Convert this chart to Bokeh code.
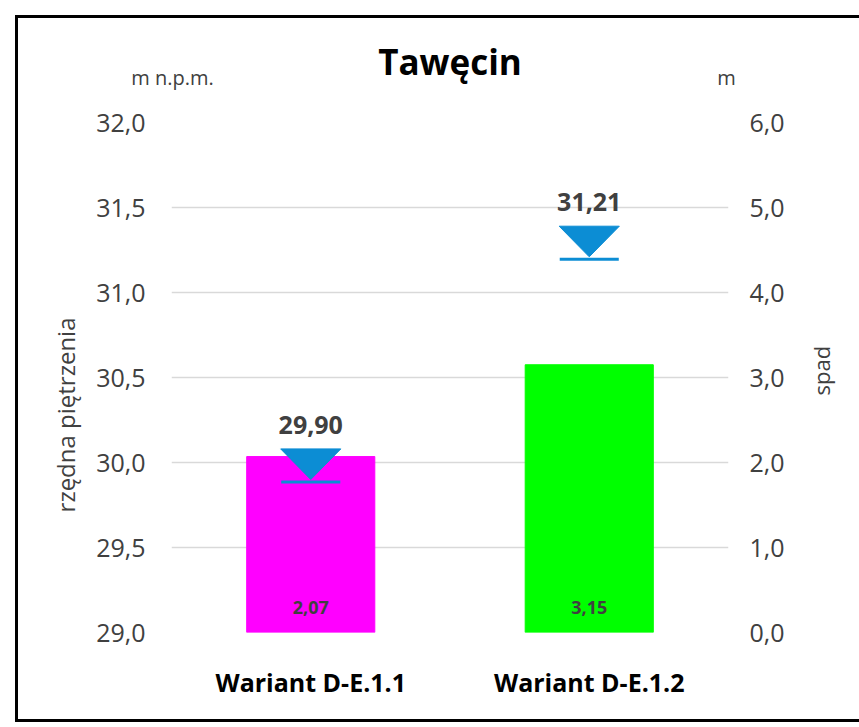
import math, json
from bokeh.plotting import figure
from bokeh.models import (Range1d, LinearAxis, FixedTicker, CustomJSTickFormatter,
                          ColumnDataSource, FactorRange)
from bokeh.embed import file_html
from bokeh.resources import INLINE
from bokeh.core.properties import value

# ---- data ----
categories = ["Wariant D-E.1.1", "Wariant D-E.1.2"]
spad = [2.07, 3.15]
spad_labels = ["2,07", "3,15"]
rzedna = [29.90, 31.21]
rzedna_labels = ["29,90", "31,21"]
bar_colors = ["#FF00FF", "#00FF00"]
left_ticks = [29.0, 29.5, 30.0, 30.5, 31.0, 31.5, 32.0]
right_ticks = [0.0, 1.0, 2.0, 3.0, 4.0, 5.0, 6.0]
unit_labels = ["m n.p.m.", "m"]
unit_positions = [0.004, 1.993]
left_title = "rzędna piętrzenia"
right_title = "spad"

FONT = "Open Sans"
TICK_COLOR = "#404040"
BLUE = "#0C8DD4"


def label_formatter(labels):
    return CustomJSTickFormatter(code="return %s[index];" % json.dumps(labels))


def bare(axis):
    axis.axis_line_color = None
    axis.major_tick_line_color = None
    axis.minor_tick_line_color = None
    axis.major_tick_out = 0
    axis.major_tick_in = 0
    axis.major_label_text_font = FONT
    axis.major_label_text_color = TICK_COLOR
    return axis


p = figure(x_range=FactorRange(*categories), y_range=Range1d(29, 32),
           width=859, height=722, output_backend="svg", toolbar_location=None,
           min_border_left=171, min_border_right=131, min_border_top=122, min_border_bottom=90,
           styles={"box-shadow": "inset 15px 15px 0 0 #ffffff, inset 18px 18px 0 0 #000000, "
                                 "inset 0 -3px 0 0 #000000"})
p.outline_line_color = None
p.background_fill_color = "white"
p.border_fill_alpha = 0

fmt = CustomJSTickFormatter(code="return tick.toFixed(1).replace('.', ',');")

# units shown above the value axes
ua = bare(LinearAxis(ticker=FixedTicker(ticks=unit_positions), formatter=label_formatter(unit_labels)))
ua.major_label_text_font_size = "20px"
ua.major_label_standoff = 32
p.add_layout(ua, "above")

p.title.text = "Tawęcin"
p.title.align = "center"
p.title.offset = -8
p.title.text_font = FONT
p.title.text_font_size = "35px"
p.title.text_font_style = "bold"
p.title.text_color = "#000000"
p.title.standoff = -48

# primary value axis (left)
ya = bare(p.left[0])
ya.ticker = FixedTicker(ticks=left_ticks)
ya.formatter = fmt
ya.major_label_text_font_size = "25px"
ya.major_label_standoff = 26

# left axis title, written along the axis
lt = bare(LinearAxis(ticker=FixedTicker(ticks=[30.853]), formatter=label_formatter([left_title])))
lt.major_label_orientation = math.pi / 2
lt.major_label_text_font_size = "24px"
lt.major_label_standoff = 28
p.add_layout(lt, "left")

# secondary value axis (right)
p.extra_y_ranges = {"spad": Range1d(0, 6)}
ra = bare(LinearAxis(y_range_name="spad", ticker=FixedTicker(ticks=right_ticks), formatter=fmt))
ra.major_label_text_font_size = "25px"
ra.major_label_standoff = 21
p.add_layout(ra, "right")

rt = bare(LinearAxis(ticker=FixedTicker(ticks=[30.394]), formatter=label_formatter([right_title])))
rt.major_label_orientation = math.pi / 2
rt.major_label_text_font_size = "22px"
rt.major_label_standoff = 34
p.add_layout(rt, "right")

# category axis
xa = bare(p.below[0])
xa.major_label_text_font_size = "25px"
xa.major_label_text_font_style = "bold"
xa.major_label_text_color = "#000000"
xa.major_label_standoff = 32

p.xgrid.visible = False
p.ygrid.grid_line_color = "#d9d9d9"
p.ygrid.grid_line_width = 1.3

# bars (secondary axis: spad)
src = ColumnDataSource(dict(cat=categories, spad=spad, color=bar_colors, lab=spad_labels))
p.vbar(x="cat", top="spad", bottom=0, width=0.46, color="color", y_range_name="spad", source=src)
p.text(x="cat", y=0, text="lab", y_range_name="spad", source=src, y_offset=-25,
       text_align="center", text_baseline="middle", text_font=value(FONT),
       text_font_style="bold", text_font_size="18px", text_color="#404040")

# water level markers (primary axis: rzędna piętrzenia)
centers = [i + 0.5 for i in range(len(categories))]
tri_xs = [[c - 0.108, c + 0.108, c] for c in centers]
tri_ys = [[r + 0.18, r + 0.18, r] for r in rzedna]
p.patches(tri_xs, tri_ys, fill_color=BLUE, line_color=BLUE)
p.segment(x0=[c - 0.106 for c in centers], x1=[c + 0.106 for c in centers],
          y0=[r - 0.015 for r in rzedna], y1=[r - 0.015 for r in rzedna],
          line_color=BLUE, line_width=3)
p.text(x=centers, y=rzedna, text=rzedna_labels, y_offset=-55,
       text_align="center", text_baseline="middle", text_font=value(FONT),
       text_font_style="bold", text_font_size="25px", text_color="#404040")

open("out.html", "w").write(file_html(p, INLINE))
